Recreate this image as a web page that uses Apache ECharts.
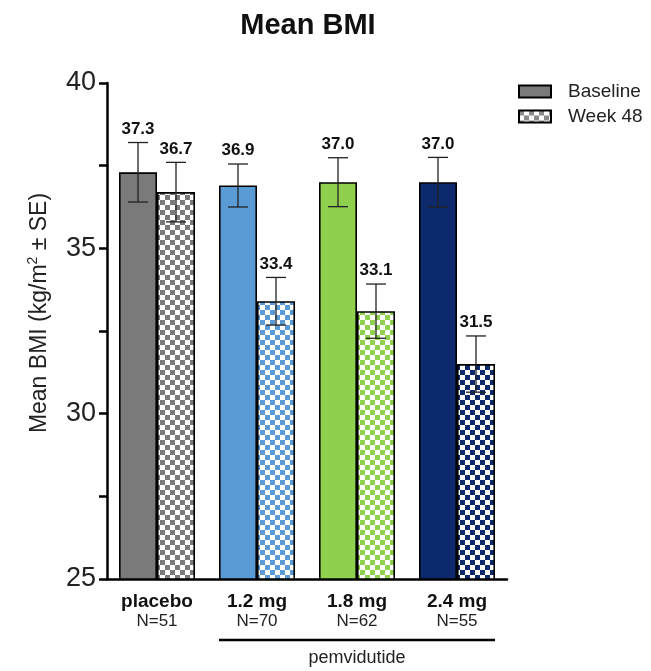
<!DOCTYPE html>
<html>
<head>
<meta charset="utf-8">
<script src="https://cdn.jsdelivr.net/npm/echarts@6/dist/echarts.min.js"></script>
<style>
html,body{margin:0;padding:0;background:#fff;}
#chart{width:651px;height:671px;}
</style>
</head>
<body>
<div id="chart"></div>
<script>
// ---- data ----
const categories = ['placebo', '1.2 mg', '1.8 mg', '2.4 mg'];
const nLabels = ['N=51', 'N=70', 'N=62', 'N=55'];
const baseline = [37.3, 36.9, 37.0, 37.0];
const week48 = [36.7, 33.4, 33.1, 31.5];
const baselineSE = [0.9, 0.65, 0.74, 0.75];
const week48SE = [0.9, 0.72, 0.82, 0.85];
const groupColors = ['#7a7a7a', '#5b9bd5', '#8fd14f', '#0c2a6b'];
const seriesNames = ['Baseline', 'Week 48'];
const yTicks = { min: 25, max: 40, interval: 5 };

// ---- styling helpers ----
const FONT = '"Liberation Sans", Arial, Helvetica, sans-serif';
const BAR_W = 38;
function checker(color, sq) {
  const c = document.createElement('canvas');
  c.width = sq * 2; c.height = sq * 2;
  const g = c.getContext('2d');
  g.fillStyle = '#ffffff'; g.fillRect(0, 0, sq * 2, sq * 2);
  g.fillStyle = color;
  g.fillRect(0, 0, sq, sq);
  g.fillRect(sq, sq, sq, sq);
  return { image: c, repeat: 'repeat' };
}

const chart = echarts.init(document.getElementById('chart'), null, { renderer: 'canvas' });

function errSeries(name, vals, ses, side) {
  return {
    type: 'custom',
    name: name + ' SE',
    z: 5,
    silent: true,
    encode: { x: 0, y: 1 },
    data: vals.map((v, i) => [i, v, ses[i]]),
    renderItem: function (params, api) {
      const i = api.value(0), v = api.value(1), se = api.value(2);
      const c = api.coord([i, v]);
      const x = c[0] + side * BAR_W / 2;
      const top = api.coord([i, v + se])[1];
      const bot = api.coord([i, v - se])[1];
      const cap = 10;
      const ls = { stroke: '#222', lineWidth: 1.3 };
      return {
        type: 'group',
        children: [
          { type: 'line', shape: { x1: x, y1: top, x2: x, y2: bot }, style: ls },
          { type: 'line', shape: { x1: x - cap, y1: top, x2: x + cap, y2: top }, style: ls },
          { type: 'line', shape: { x1: x - cap, y1: bot, x2: x + cap, y2: bot }, style: ls },
          { type: 'text', style: { text: v.toFixed(1), x: x, y: top - 5, textAlign: 'center', textVerticalAlign: 'bottom', font: 'bold 17px ' + FONT, fill: '#111' } }
        ]
      };
    }
  };
}

const option = {
  animation: false,
  backgroundColor: '#ffffff',
  title: {
    text: 'Mean BMI',
    left: 303,
    textAlign: 'center',
    top: 6,
    textStyle: { fontFamily: FONT, fontWeight: 'bold', fontSize: 29, color: '#111' }
  },
  legend: {
    data: seriesNames,
    orient: 'vertical',
    left: 513,
    top: 77,
    itemWidth: 32,
    itemHeight: 12,
    itemGap: 6,
    icon: 'rect',
    textStyle: { fontFamily: FONT, fontSize: 19, color: '#222', padding: [0, 0, 0, 12] }
  },
  grid: { left: 107, right: 144, top: 83, bottom: 92 },
  xAxis: {
    type: 'category',
    data: categories,
    axisLine: { lineStyle: { color: '#000', width: 2.5 } },
    axisTick: { alignWithLabel: true, length: 10, lineStyle: { color: '#000', width: 2.5 } },
    axisLabel: {
      margin: 12,
      formatter: function (v, i) { return '{a|' + v + '}\n{b|' + nLabels[i] + '}'; },
      rich: {
        a: { fontFamily: FONT, fontWeight: 'bold', fontSize: 19, color: '#111', lineHeight: 21 },
        b: { fontFamily: FONT, fontSize: 17, color: '#222', lineHeight: 19 }
      }
    }
  },
  yAxis: {
    type: 'value',
    min: yTicks.min, max: yTicks.max, interval: yTicks.interval,
    axisLine: { show: true, lineStyle: { color: '#000', width: 2.5 } },
    axisTick: { show: true, length: 8, lineStyle: { color: '#000', width: 2.5 } },
    minorTick: { show: true, splitNumber: 2, length: 8, lineStyle: { color: '#000', width: 2.5 } },
    splitLine: { show: false },
    axisLabel: { fontFamily: FONT, fontSize: 27, color: '#222', margin: 11 }
  },
  series: [
    {
      name: seriesNames[0],
      type: 'bar',
      barWidth: BAR_W,
      barGap: '0%',
      itemStyle: { color: groupColors[0], borderColor: '#000', borderWidth: 1.6 },
      data: baseline.map((v, i) => ({ value: v, itemStyle: { color: groupColors[i] } }))
    },
    {
      name: seriesNames[1],
      type: 'bar',
      barWidth: BAR_W,
      barGap: '0%',
      itemStyle: { color: checker('#8a8a8a', 5), borderColor: '#000', borderWidth: 1.6 },
      data: week48.map((v, i) => ({ value: v, itemStyle: { color: checker(groupColors[i], 5) } }))
    },
    errSeries('Baseline', baseline, baselineSE, -1),
    errSeries('Week 48', week48, week48SE, 1)
  ]
};
chart.setOption(option);

// annotation: pemvidutide bracket under the three dose groups
const xL = chart.convertToPixel({ xAxisIndex: 0 }, categories[1]) - BAR_W;
const xR = chart.convertToPixel({ xAxisIndex: 0 }, categories[3]) + BAR_W;
chart.setOption({
  graphic: [
    { type: 'line', shape: { x1: xL, y1: 640, x2: xR, y2: 640 }, style: { stroke: '#000', lineWidth: 2.5 } },
    { type: 'text', x: (xL + xR) / 2, y: 658, style: { text: 'pemvidutide', textAlign: 'center', textVerticalAlign: 'middle', font: '18px ' + FONT, fill: '#222' } },
    {
      type: 'text', x: 40, y: 313, rotation: Math.PI / 2,
      style: {
        text: '{a|Mean BMI (kg/m}{s|2}{a| ± SE)}',
        textAlign: 'center', textVerticalAlign: 'middle',
        rich: {
          a: { fontFamily: FONT, fontSize: 23, fill: '#222', lineHeight: 28 },
          s: { fontFamily: FONT, fontSize: 14, fill: '#222', lineHeight: 28, verticalAlign: 'top', padding: [0, 0, 10, 0] }
        }
      }
    }
  ]
});
</script>
</body>
</html>
